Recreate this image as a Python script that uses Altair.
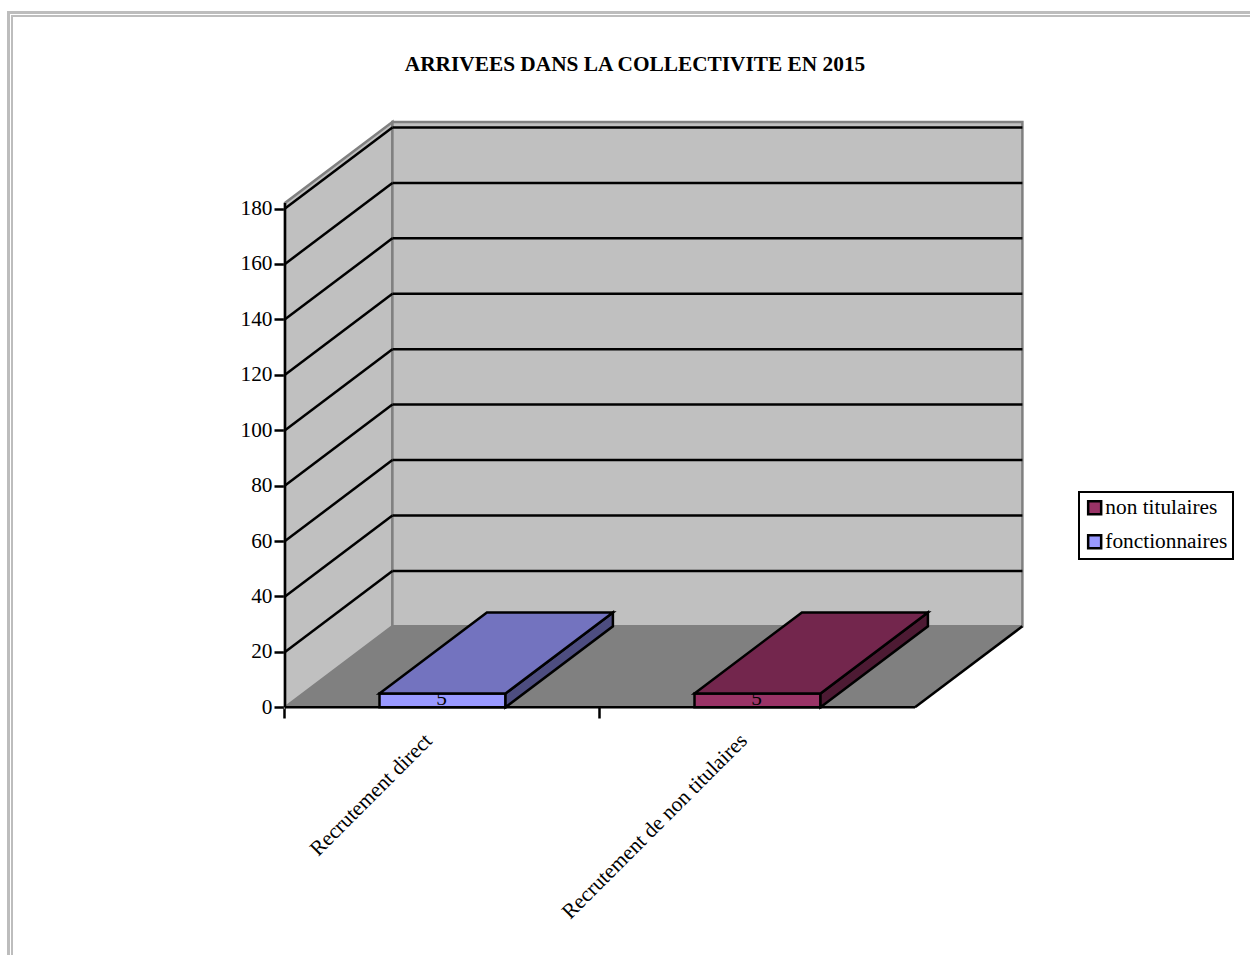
import altair as alt
import pandas as pd

# Chart content
title_text = "ARRIVEES DANS LA COLLECTIVITE EN 2015"
categories = ["Recrutement direct", "Recrutement de non titulaires"]
series = ["fonctionnaires", "non titulaires"]
values = [5, 5]
front_colors = ["#9999FF", "#993366"]
top_colors = ["#7373BF", "#73264D"]
side_colors = ["#4D4D80", "#4D1A33"]
y_ticks = [0, 20, 40, 60, 80, 100, 120, 140, 160, 180]
x_ticks = [0, 1]

# Oblique projection: how far the back plane is shifted, in data units
DEPTH_X = 107.4 / 315
DEPTH_Y = 81 / 2.771
BAR_START, BAR_END = 0.30, 0.70
WALL_TOP = 182
SERIF = "Liberation Serif"
TEXT_SIZE = 21.33
LINE = 2.5

X_SCALE = alt.Scale(domain=[-285 / 315, (1250 - 285) / 315], nice=False, zero=False)
Y_SCALE = alt.Scale(domain=[(707.3 - 955) / 2.771, 707.3 / 2.771], nice=False, zero=False)


def X(field):
    return alt.X(field, type="quantitative", scale=X_SCALE, axis=None)


def Y(field):
    return alt.Y(field, type="quantitative", scale=Y_SCALE, axis=None)


def rules(rows, color="black", width=LINE):
    """Straight segments given as x, y, x2, y2 rows in data units."""
    df = pd.DataFrame(rows, columns=["x", "y", "xe", "ye"])
    return alt.Chart(df).mark_rule(color=color, strokeWidth=width).encode(
        x=X("x"), y=Y("y"), x2="xe:Q", y2="ye:Q"
    )


def vertical_face(x0, x1, y_low, y_high, rise, fill, stroke, width):
    """Parallelogram with two vertical sides; the far side sits `rise` higher."""
    df = pd.DataFrame({
        "x": [x0, x1],
        "lo": [y_low, y_low + rise],
        "hi": [y_high, y_high + rise],
    })
    return alt.Chart(df).mark_area(
        fill=fill, stroke=stroke, strokeWidth=width, opacity=1
    ).encode(x=X("x"), y=Y("lo"), y2="hi:Q")


def horizontal_face(x0, x1, y_front, fill, stroke, width):
    """Parallelogram with two horizontal sides, receding to the back plane."""
    df = pd.DataFrame({
        "y": [y_front, y_front + DEPTH_Y],
        "lo": [x0, x0 + DEPTH_X],
        "hi": [x1, x1 + DEPTH_X],
    })
    return alt.Chart(df).mark_area(
        fill=fill, stroke=stroke, strokeWidth=width, orient="horizontal", opacity=1
    ).encode(y=Y("y"), x=X("lo"), x2="hi:Q")


layers = []

# Page frame
frame_color = "#BDBDBD"
anchor_row = pd.DataFrame({"a": [0]})
for pos, w in [(8.5, 3), (12, 2)]:
    layers.append(alt.Chart(anchor_row).mark_rule(color=frame_color, strokeWidth=w).encode(
        x=alt.value(pos), y=alt.value(pos + 4), y2=alt.value(955)))
for pos, w, x_start in [(12.5, 3, 7), (16, 2, 11)]:
    layers.append(alt.Chart(anchor_row).mark_rule(color=frame_color, strokeWidth=w).encode(
        y=alt.value(pos), x=alt.value(x_start), x2=alt.value(1250)))

# Walls and floor
n_cat = len(categories)
layers.append(vertical_face(0, DEPTH_X, 0, WALL_TOP, DEPTH_Y, "#C0C0C0", "#808080", 2.5))
layers.append(vertical_face(DEPTH_X, DEPTH_X + n_cat, DEPTH_Y, DEPTH_Y + WALL_TOP, 0,
                            "#C0C0C0", "#808080", 2.5))
layers.append(horizontal_face(0, n_cat, 0, "#808080", "#808080", 1))

# Gridlines run along the side wall and across the back wall
grid_values = [v for v in y_ticks if v > 0]
layers.append(rules([(0, v, DEPTH_X, v + DEPTH_Y) for v in grid_values]))
layers.append(rules([(DEPTH_X, v + DEPTH_Y, DEPTH_X + n_cat, v + DEPTH_Y) for v in grid_values]))

# Outer floor edges
layers.append(rules([(0, 0, n_cat, 0), (n_cat, 0, n_cat + DEPTH_X, DEPTH_Y)]))

# Bars: front face, value, then side and top
for i, (ser, val) in enumerate(zip(series, values)):
    x0, x1 = i + BAR_START, i + BAR_END
    front = pd.DataFrame({"x": [x0], "xe": [x1], "y": [0], "ye": [val], "series": [ser]})
    layers.append(alt.Chart(front).mark_rect(stroke="black", strokeWidth=LINE, opacity=1).encode(
        x=X("x"), x2="xe:Q", y=Y("y"), y2="ye:Q",
        color=alt.Color("series:N",
                        scale=alt.Scale(domain=series[::-1], range=front_colors[::-1]),
                        sort=series[::-1],
                        legend=alt.Legend(title=None, orient="none", legendX=1079, legendY=492,
                                          fillColor="white", strokeColor="black", padding=5,
                                          symbolType="square", symbolSize=169,
                                          symbolStrokeColor="black", symbolStrokeWidth=2.5,
                                          symbolOpacity=1,
                                          labelFont=SERIF, labelFontSize=TEXT_SIZE, labelColor="black",
                                          labelOffset=0, rowPadding=10)),
    ))
    label = pd.DataFrame({"x": [(x0 + x1) / 2], "y": [0], "t": [str(val)]})
    layers.append(alt.Chart(label).mark_text(font=SERIF, fontSize=TEXT_SIZE, color="black",
                                             baseline="alphabetic", align="center", dx=-1, dy=-2.5).encode(
        x=X("x"), y=Y("y"), text="t:N"))
    layers.append(vertical_face(x1, x1 + DEPTH_X, 0, val, DEPTH_Y, side_colors[i], "black", LINE))
    layers.append(horizontal_face(x0, x1, val, top_colors[i], "black", LINE))

# Value axis: line, ticks and labels
layers.append(rules([(0, 0, 0, WALL_TOP)]))
layers.append(alt.Chart(pd.DataFrame({"v": y_ticks})).mark_point(opacity=0).encode(
    y=alt.Y("v:Q", scale=Y_SCALE, axis=alt.Axis(
        values=y_ticks, title=None, domain=False, grid=False, offset=-285,
        tickSize=11, tickWidth=LINE, tickColor="black",
        labelFont=SERIF, labelFontSize=TEXT_SIZE, labelColor="black", labelPadding=2)),
    x=alt.value(0)))

# Category axis: ticks and slanted labels
layers.append(alt.Chart(pd.DataFrame({"v": x_ticks})).mark_point(opacity=0).encode(
    x=alt.X("v:Q", scale=X_SCALE, axis=alt.Axis(
        values=x_ticks, title=None, domain=False, grid=False, labels=False, offset=-248,
        tickSize=11, tickWidth=LINE, tickColor="black", tickOffset=-1)),
    y=alt.value(0)))
cat_labels = pd.DataFrame({"x": [i + 0.5 for i in range(n_cat)], "y": [0] * n_cat, "t": categories})
layers.append(alt.Chart(cat_labels).mark_text(
    font=SERIF, fontSize=TEXT_SIZE, color="black", align="right", baseline="middle",
    angle=315, dx=-31, dy=12).encode(x=X("x"), y=Y("y"), text="t:N"))

chart = alt.layer(*layers).resolve_axis(x="independent", y="independent").properties(
    width=1250, height=955, padding=0,
    autosize=alt.AutoSizeParams(type="none"),
    background="white",
    title=alt.TitleParams(title_text, font=SERIF, fontSize=TEXT_SIZE, fontWeight="bold", color="black",
                          anchor="middle", dx=10, dy=82),
).configure_view(stroke=None).configure_legend(strokeWidth=2)

chart.save("out.html", embed_options={"renderer": "svg", "actions": False})
